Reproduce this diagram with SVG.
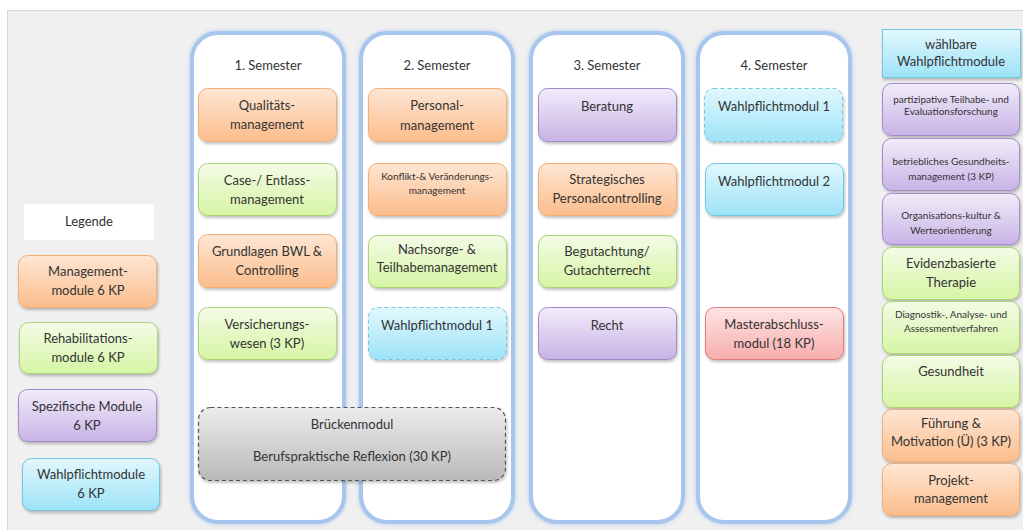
<svg xmlns="http://www.w3.org/2000/svg" width="1023" height="530" viewBox="0 0 1023 530">
<defs>
<linearGradient id="gOr" x1="0" y1="0" x2="0" y2="1"><stop offset="0" stop-color="#fee6d4"/><stop offset="1" stop-color="#fbbd8c"/></linearGradient>
<linearGradient id="gGr" x1="0" y1="0" x2="0" y2="1"><stop offset="0" stop-color="#f3fbe6"/><stop offset="1" stop-color="#d6f5a4"/></linearGradient>
<linearGradient id="gPu" x1="0" y1="0" x2="0" y2="1"><stop offset="0" stop-color="#f2ecfa"/><stop offset="1" stop-color="#c8b3e6"/></linearGradient>
<linearGradient id="gCy" x1="0" y1="0" x2="0" y2="1"><stop offset="0" stop-color="#e2f7fd"/><stop offset="1" stop-color="#9de3f8"/></linearGradient>
<linearGradient id="gRe" x1="0" y1="0" x2="0" y2="1"><stop offset="0" stop-color="#fde4e4"/><stop offset="1" stop-color="#f8adad"/></linearGradient>
<linearGradient id="gGy" x1="0" y1="0" x2="0" y2="1"><stop offset="0" stop-color="#ececec"/><stop offset="1" stop-color="#b9b9b9"/></linearGradient>
<filter id="sh" x="-10%" y="-10%" width="125%" height="135%"><feDropShadow dx="1" dy="2" stdDeviation="1.5" flood-color="#000" flood-opacity="0.25"/></filter>
<filter id="glow" x="-10%" y="-5%" width="120%" height="110%"><feDropShadow dx="0" dy="0" stdDeviation="2" flood-color="#9fbfe8" flood-opacity="0.8"/></filter>
</defs>
<style>
text{font-family:Lato,"Liberation Sans",sans-serif;fill:#333;text-anchor:middle;font-size:13px}
.sm{font-size:10px}
.col{fill:#fff;stroke:#a8c5ee;stroke-width:4;filter:url(#glow)}
.box{filter:url(#sh);stroke-width:1}
.or{fill:url(#gOr);stroke:#f3ae76}
.gr{fill:url(#gGr);stroke:#aad47a}
.pu{fill:url(#gPu);stroke:#a38ccc}
.cy{fill:url(#gCy);stroke:#6fc7df}
.re{fill:url(#gRe);stroke:#e07b7b}
.gy{fill:url(#gGy);stroke:#555;stroke-dasharray:4 3;stroke-width:1.2}
.dash{stroke-dasharray:4 3}
</style>
<rect x="0" y="0" width="1023" height="530" fill="#fff"/>
<rect x="7.5" y="10.5" width="1020" height="525" fill="#f0f0f0" stroke="#d6d6d6"/>

<g id="sem1"><rect class="col" x="192" y="33" width="152" height="489" rx="26"/><text x="268" y="70">1. Semester</text></g>
<g id="sem2"><rect class="col" x="361" y="33" width="152" height="489" rx="26"/><text x="437" y="70">2. Semester</text></g>
<g id="sem3"><rect class="col" x="531" y="33" width="152" height="489" rx="26"/><text x="607" y="70">3. Semester</text></g>
<g id="sem4"><rect class="col" x="698" y="33" width="152" height="489" rx="26"/><text x="774" y="70">4. Semester</text></g>

<g id="legende"><rect x="24" y="204" width="130" height="36" fill="#fff"/><text x="89" y="226">Legende</text></g>
<g id="leg-mgmt"><rect class="box or" x="18.5" y="255.5" width="138" height="52" rx="9"/><text x="88" y="276">Management-</text><text x="88" y="295">module 6 KP</text></g>
<g id="leg-reha"><rect class="box gr" x="19.5" y="322.5" width="138" height="51" rx="9"/><text x="88" y="343">Rehabilitations-</text><text x="88" y="362">module 6 KP</text></g>
<g id="leg-spez"><rect class="box pu" x="18.5" y="389.5" width="138" height="52" rx="9"/><text x="87" y="411">Spezifische Module</text><text x="87" y="430">6 KP</text></g>
<g id="leg-wahl"><rect class="box cy" x="22.5" y="458.5" width="137" height="52" rx="9"/><text x="91" y="479">Wahlpflichtmodule</text><text x="91" y="498">6 KP</text></g>

<g id="s1-qm"><rect class="box or" x="198.5" y="88.5" width="138" height="53" rx="9"/><text x="267" y="110">Qualitäts-</text><text x="267" y="129">management</text></g>
<g id="s1-case"><rect class="box gr" x="198.5" y="163.5" width="138" height="52" rx="9"/><text x="267" y="185">Case-/ Entlass-</text><text x="267" y="204">management</text></g>
<g id="s1-bwl"><rect class="box or" x="198.5" y="234.5" width="138" height="53" rx="9"/><text x="267" y="256">Grundlagen BWL &amp;</text><text x="267" y="275">Controlling</text></g>
<g id="s1-vers"><rect class="box gr" x="198.5" y="307.5" width="138" height="52" rx="9"/><text x="267" y="329">Versicherungs-</text><text x="267" y="348">wesen (3 KP)</text></g>

<g id="s2-pm"><rect class="box or" x="368.5" y="88.5" width="138" height="53" rx="9"/><text x="437" y="110">Personal-</text><text x="437" y="130">management</text></g>
<g id="s2-konf"><rect class="box or" x="368.5" y="163.5" width="138" height="52" rx="9"/><text class="sm" x="437" y="180">Konflikt-&amp; Veränderungs-</text><text class="sm" x="437" y="194">management</text></g>
<g id="s2-nach"><rect class="box gr" x="368.5" y="235.5" width="138" height="52" rx="9"/><text x="437" y="254">Nachsorge- &amp;</text><text x="437" y="272">Teilhabemanagement</text></g>
<g id="s2-wpm1"><rect class="box cy dash" x="368.5" y="307.5" width="138" height="52" rx="9"/><text x="437" y="330">Wahlpflichtmodul 1</text></g>

<g id="s3-ber"><rect class="box pu" x="538.5" y="88.5" width="138" height="53" rx="9"/><text x="607" y="111">Beratung</text></g>
<g id="s3-strat"><rect class="box or" x="538.5" y="163.5" width="138" height="52" rx="9"/><text x="607" y="184">Strategisches</text><text x="607" y="203">Personalcontrolling</text></g>
<g id="s3-beg"><rect class="box gr" x="538.5" y="235.5" width="138" height="52" rx="9"/><text x="607" y="256">Begutachtung/</text><text x="607" y="275">Gutachterrecht</text></g>
<g id="s3-recht"><rect class="box pu" x="538.5" y="307.5" width="138" height="52" rx="9"/><text x="607" y="330">Recht</text></g>

<g id="s4-wpm1"><rect class="box cy dash" x="704.5" y="88.5" width="138" height="53" rx="9"/><text x="774" y="111">Wahlpflichtmodul 1</text></g>
<g id="s4-wpm2"><rect class="box cy" x="705.5" y="163.5" width="138" height="52" rx="9"/><text x="774" y="186">Wahlpflichtmodul 2</text></g>
<g id="s4-master"><rect class="box re" x="705.5" y="307.5" width="138" height="52" rx="9"/><text x="774" y="329">Masterabschluss-</text><text x="774" y="348">modul (18 KP)</text></g>

<g id="bruecke"><rect class="box gy" x="198.5" y="407.5" width="307" height="73" rx="12"/><text x="352" y="429">Brückenmodul</text><text x="352" y="461">Berufspraktische Reflexion (30 KP)</text></g>

<g id="wahl-head"><rect class="box cy" x="882.5" y="29.5" width="138" height="48" style="filter:url(#sh)"/><text x="951" y="49">wählbare</text><text x="951" y="66">Wahlpflichtmodule</text></g>
<g id="w-part"><rect class="box pu" x="882.5" y="83.5" width="137" height="52" rx="9"/><text class="sm" x="951" y="103">partizipative Teilhabe- und</text><text class="sm" x="951" y="115">Evaluationsforschung</text></g>
<g id="w-bgm"><rect class="box pu" x="882.5" y="138.5" width="137" height="52" rx="9"/><text class="sm" x="951" y="165">betriebliches Gesundheits-</text><text class="sm" x="951" y="180">management (3 KP)</text></g>
<g id="w-org"><rect class="box pu" x="882.5" y="193.5" width="137" height="51" rx="9"/><text class="sm" x="951" y="219">Organisations-kultur &amp;</text><text class="sm" x="951" y="234">Werteorientierung</text></g>
<g id="w-evid"><rect class="box gr" x="882.5" y="247.5" width="137" height="52" rx="9"/><text x="951" y="268">Evidenzbasierte</text><text x="951" y="287">Therapie</text></g>
<g id="w-diag"><rect class="box gr" x="882.5" y="301.5" width="137" height="52" rx="9"/><text class="sm" x="951" y="318">Diagnostik-, Analyse- und</text><text class="sm" x="951" y="332">Assessmentverfahren</text></g>
<g id="w-ges"><rect class="box gr" x="882.5" y="355.5" width="137" height="52" rx="9"/><text x="951" y="376">Gesundheit</text></g>
<g id="w-fuehr"><rect class="box or" x="882.5" y="409.5" width="137" height="52" rx="9"/><text x="951" y="428">Führung &amp;</text><text x="951" y="446">Motivation (Ü) (3 KP)</text></g>
<g id="w-proj"><rect class="box or" x="882.5" y="463.5" width="137" height="52" rx="9"/><text x="951" y="485">Projekt-</text><text x="951" y="503">management</text></g>
</svg>
